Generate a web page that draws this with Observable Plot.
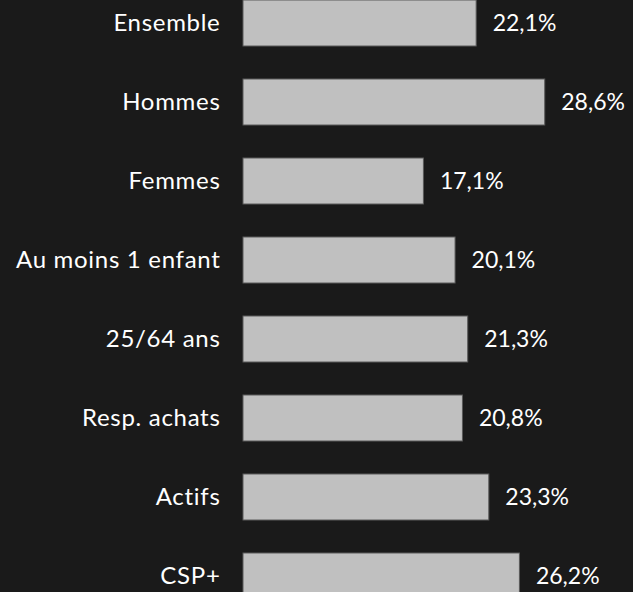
<!DOCTYPE html>
<html>
<head>
<meta charset="utf-8">
<script src="https://cdn.jsdelivr.net/npm/d3@7"></script>
<script src="https://cdn.jsdelivr.net/npm/@observablehq/plot@0.6"></script>
<style>
  html, body { margin: 0; padding: 0; background: #1a1a1a; }
  #chart { width: 633px; height: 592px; overflow: hidden; background: #1a1a1a; }
  #chart svg { overflow: hidden; }
  #chart svg g[aria-label="y-axis tick label"] text { letter-spacing: 0.7px; }
</style>
</head>
<body>
<div id="chart"></div>
<script>
const categories = ["Ensemble", "Hommes", "Femmes", "Au moins 1 enfant", "25/64 ans", "Resp. achats", "Actifs", "CSP+"];
const values = [22.1, 28.6, 17.1, 20.1, 21.3, 20.8, 23.3, 26.2];
const valueLabels = ["22,1%", "28,6%", "17,1%", "20,1%", "21,3%", "20,8%", "23,3%", "26,2%"];

const data = categories.map((c, i) => ({category: c, value: values[i], label: valueLabels[i]}));

const chart = Plot.plot({
  width: 633,
  height: 592,
  marginLeft: 243,
  marginRight: 0,
  marginTop: 0,
  marginBottom: 0,
  style: {background: "#1a1a1a", color: "#ffffff", fontFamily: "Lato, sans-serif", fontSize: "23px"},
  x: {domain: [0, 30], range: [243, 559.5], axis: null},
  y: {domain: categories, range: [-35, 634.5], padding: 0.42, label: null},
  marks: [
    Plot.barX(data, {x: "value", y: "category", fill: "#c0c0c0", stroke: "#5a5a5a", strokeWidth: 1}),
    Plot.text(data, {x: "value", y: "category", text: "label", dx: 16, textAnchor: "start", fill: "#ffffff", fontSize: 23}),
    Plot.axisY({tickSize: 0, tickPadding: 23, fontSize: 24, fill: "#ffffff", label: null})
  ]
});
document.getElementById("chart").appendChild(chart);
</script>
</body>
</html>
